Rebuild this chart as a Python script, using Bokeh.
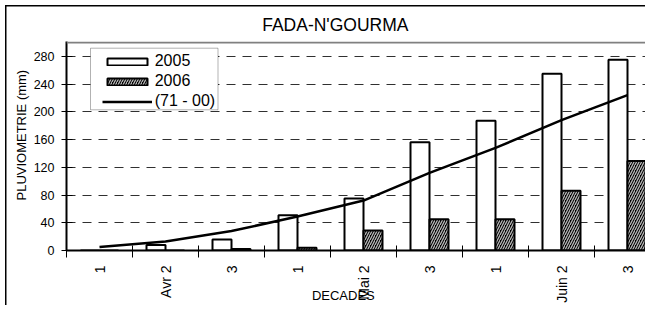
import math
from bokeh.plotting import figure
from bokeh.models import (Range1d, FixedTicker, Legend, LegendItem, BoxAnnotation, Span)
from bokeh.embed import file_html
from bokeh.resources import INLINE

# ---------------- data ----------------
chart_title = "FADA-N'GOURMA"
x_title = "DECADES"
y_title = "PLUVIOMETRIE (mm)"
categories = ["1", "Avr 2", "3", "1", "Mai 2", "3", "1", "Juin 2", "3"]
rain_2005 = [0, 8, 16, 51, 75, 156, 187, 255, 275]
rain_2006 = [0, 0, 2, 4, 29, 45, 45, 86, 129]
normal_7100 = [5, 13, 28, 49, 72, 112, 148, 188, 224]
series_names = ["2005", "2006", "(71 - 00)"]
y_ticks = [0, 40, 80, 120, 160, 200, 240, 280]
y_max = 300

# ---------------- layout helpers ----------------
W, H = 645, 305
ML = 66
MT = 41
MB = H - 250
frame_w = W - ML
frame_h = H - MT - MB
cat_px = 66.0
x_end = frame_w / cat_px
px_per_unit = 208.0 / y_max
y_end = frame_h / px_per_unit
n = len(categories)
centers = [i + 0.5 for i in range(n)]
boundaries = [float(i) for i in range(n)]
bw = 19.0 / cat_px
x05 = [c - bw / 2 for c in centers]
x06 = [c + bw / 2 for c in centers]

FONT = "Liberation Sans"
NB = "\u00a0"

p = figure(width=W, height=H, x_range=Range1d(0, x_end), y_range=Range1d(0, y_end),
           output_backend="svg", toolbar_location=None,
           min_border_left=ML, min_border_right=0, min_border_top=MT,
           min_border_bottom=MB)
p.outline_line_color = None
p.background_fill_color = "white"
p.border_fill_alpha = 0
p.styles = {
    "background-color": "white",
    "background-image": "linear-gradient(black, black), linear-gradient(black, black)",
    "background-size": "100% 1.5px, 1.5px 100%",
    "background-position": "5px 5px, 5px 5px",
    "background-repeat": "no-repeat",
}

# title
p.title.text = chart_title
p.title.align = "left"
p.title.offset = 261.7 - ML
p.title.text_font = FONT
p.title.text_font_size = "17.5px"
p.title.text_font_style = "normal"
p.title.text_color = "black"
p.title.standoff = 14

# x axis
xa = p.xaxis[0]
xa.ticker = FixedTicker(ticks=centers, minor_ticks=boundaries)
xa.major_label_overrides = {c: lab for c, lab in zip(centers, categories)}
xa.major_label_orientation = math.pi / 2
xa.major_tick_out = 0
xa.major_tick_in = 0
xa.minor_tick_out = 7
xa.minor_tick_in = 5
xa.minor_tick_line_color = "black"
xa.minor_tick_line_width = 1
xa.axis_line_color = "black"
xa.axis_line_width = 2
xa.major_label_standoff = 8
xa.major_label_text_font = FONT
xa.major_label_text_font_size = "14px"
xa.major_label_text_color = "black"
xa.axis_label = x_title + NB * 7
xa.axis_label_text_font = FONT
xa.axis_label_text_font_size = "13px"
xa.axis_label_text_font_style = "normal"
xa.axis_label_text_color = "black"
xa.axis_label_standoff = -18

# y axis
ya = p.yaxis[0]
ya.ticker = FixedTicker(ticks=y_ticks)
ya.major_tick_out = 5
ya.major_tick_in = 6
ya.minor_tick_out = 0
ya.minor_tick_in = 0
ya.major_tick_line_color = "black"
ya.axis_line_color = "black"
ya.axis_line_width = 2
ya.major_label_standoff = 7
ya.major_label_text_font = FONT
ya.major_label_text_font_size = "12.5px"
ya.major_label_text_color = "black"
ya.axis_label = NB * 6 + y_title
ya.axis_label_text_font = FONT
ya.axis_label_text_font_size = "13px"
ya.axis_label_text_font_style = "normal"
ya.axis_label_text_color = "black"
ya.axis_label_standoff = 2

p.xgrid.visible = False
p.ygrid.grid_line_color = "#303030"
p.ygrid.grid_line_dash = "9 7"
p.ygrid.grid_line_width = 1

# top border of the plot area
p.add_layout(Span(location=y_max, dimension="width", line_color="#808080", line_width=2))

# bars
r05 = p.vbar(x=x05, top=rain_2005, width=bw, fill_color="white",
             line_color="black", line_width=2)
r06 = p.vbar(x=x06, top=rain_2006, width=bw, fill_color="black",
             line_color="black", line_width=2, hatch_pattern="/",
             hatch_color="#b8b8b8", hatch_scale=5, hatch_weight=1.3)
rl = p.line(x=centers, y=normal_7100, line_color="black", line_width=2.5)

def dx(px):
    return (px - ML) / cat_px
def dy(py):
    return (250.0 - py) / px_per_unit

# legend box
p.add_layout(BoxAnnotation(left=dx(90), right=dx(217.5), top=dy(47.7), bottom=dy(109.3),
                           fill_color="white", fill_alpha=1, line_color="black",
                           line_width=1))

legend = Legend(items=[LegendItem(label=series_names[0], renderers=[r05]),
                       LegendItem(label=series_names[1], renderers=[r06]),
                       LegendItem(label=series_names[2], renderers=[rl])],
                location=(101.7 - ML, 139), padding=0, margin=0, spacing=0,
                label_height=20, glyph_height=9, glyph_width=50,
                label_standoff=3, border_line_color=None,
                background_fill_alpha=0, label_text_font=FONT,
                label_text_font_size="16px", label_text_color="black")
p.add_layout(legend, "center")

open("out.html", "w").write(file_html(p, INLINE))
